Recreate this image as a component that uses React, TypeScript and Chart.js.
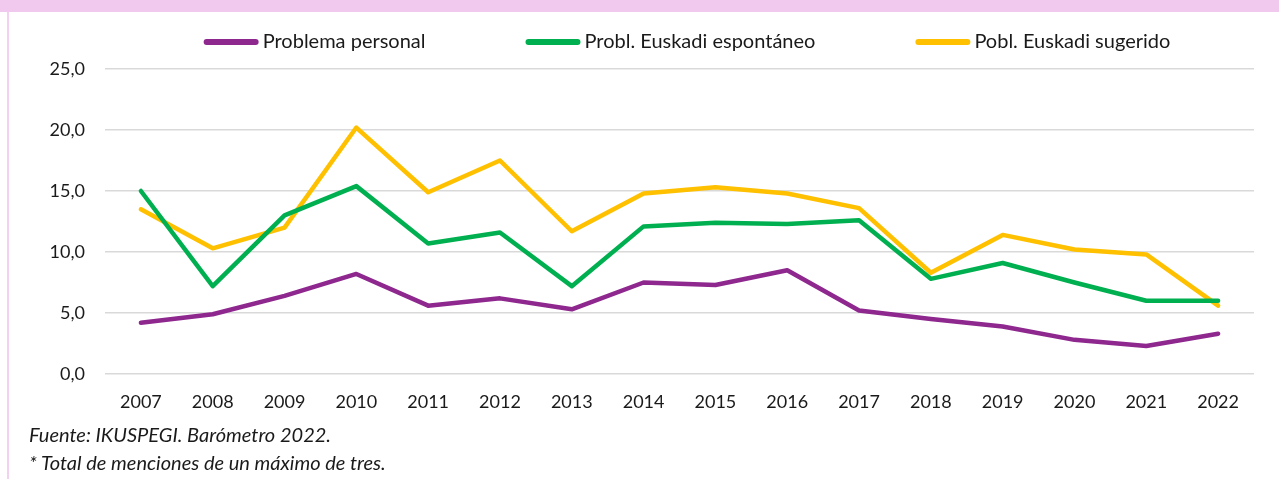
import React, { useEffect, useRef } from "react";
import { Chart, registerables } from "chart.js";

Chart.register(...registerables);

const years = ["2007","2008","2009","2010","2011","2012","2013","2014","2015","2016","2017","2018","2019","2020","2021","2022"];
const problemaPersonal = [4.2, 4.9, 6.4, 8.2, 5.6, 6.2, 5.3, 7.5, 7.3, 8.5, 5.2, 4.5, 3.9, 2.8, 2.3, 3.3];
const euskadiEspontaneo = [15.0, 7.2, 13.0, 15.4, 10.7, 11.6, 7.2, 12.1, 12.4, 12.3, 12.6, 7.8, 9.1, 7.5, 6.0, 6.0];
const euskadiSugerido = [13.5, 10.3, 12.0, 20.2, 14.9, 17.5, 11.7, 14.8, 15.3, 14.8, 13.6, 8.3, 11.4, 10.2, 9.8, 5.6];
const seriesLabels = ["Problema personal", "Probl. Euskadi espontáneo", "Pobl. Euskadi sugerido"];
const seriesColors = ["#8E278E", "#00B050", "#FFC000"];
const yTicks = [0, 5, 10, 15, 20, 25];
const footnotes = ["Fuente: IKUSPEGI. Barómetro 2022.", "* Total de menciones de un máximo de tres."];

const FONT = "Lato, 'Open Sans', sans-serif";

const legendPlugin = {
  id: "customLegend",
  afterDraw(chart: any) {
    const ctx = chart.ctx;
    const ds = chart.data.datasets;
    ctx.save();
    ctx.font = `20px ${FONT}`;
    const lineW = 55;
    const gapText = 4;
    const gapItem = 100;
    const widths = ds.map((d: any) => lineW + gapText + ctx.measureText(d.label).width);
    const total = widths.reduce((a: number, b: number) => a + b, 0) + gapItem * (ds.length - 1);
    let x = 687 - total / 2;
    const y = 42;
    ds.forEach((d: any, i: number) => {
      ctx.strokeStyle = d.borderColor;
      ctx.lineWidth = 6;
      ctx.lineCap = "round";
      ctx.beginPath();
      ctx.moveTo(x + 3, y);
      ctx.lineTo(x + lineW - 3, y);
      ctx.stroke();
      ctx.fillStyle = "#1a1a1a";
      ctx.textBaseline = "middle";
      ctx.textAlign = "left";
      ctx.fillText(d.label, x + lineW + gapText, y);
      x += widths[i] + gapItem;
    });
    ctx.restore();
  },
};

export default function App() {
  const ref = useRef<HTMLCanvasElement>(null);
  useEffect(() => {
    document.body.style.margin = "0";
    const seriesData = [problemaPersonal, euskadiEspontaneo, euskadiSugerido];
    const chart = new Chart(ref.current!, {
      type: "line",
      data: {
        labels: years,
        datasets: seriesData.map((d, i) => ({
          label: seriesLabels[i],
          data: d,
          borderColor: seriesColors[i],
          backgroundColor: seriesColors[i],
          borderWidth: 4.5,
          pointRadius: 0,
          tension: 0,
          borderCapStyle: "round" as const,
          borderJoinStyle: "round" as const,
        })),
      },
      options: {
        animation: false,
        responsive: false,
        maintainAspectRatio: false,
        layout: { padding: { top: 69, right: 25, bottom: 45, left: 0 } },
        plugins: { legend: { display: false }, tooltip: { enabled: false } },
        scales: {
          x: {
            type: "category",
            offset: true,
            grid: { display: false, drawTicks: false },
            border: { display: false },
            ticks: { color: "#1a1a1a", font: { family: FONT, size: 18 }, padding: 17, maxRotation: 0, autoSkip: false },
            afterFit: (s: any) => { s.height = 60; },
          },
          y: {
            min: 0,
            max: 25,
            afterBuildTicks: (s: any) => { s.ticks = yTicks.map((v) => ({ value: v })); },
            grid: { color: "#D9D9D9", lineWidth: 1.5, drawTicks: false },
            border: { display: false },
            ticks: {
              color: "#1a1a1a",
              font: { family: FONT, size: 18 },
              padding: 20,
              callback: (v: any) => Number(v).toFixed(1).replace(".", ","),
            },
            afterFit: (s: any) => { s.width = 105; },
          },
        },
      },
      plugins: [legendPlugin],
    });
    return () => chart.destroy();
  }, []);

  return (
    <div style={{ position: "fixed", left: 0, top: 0, width: 1279, height: 479, background: "#fff", overflow: "hidden" }}>
      <canvas ref={ref} width={1279} height={479} style={{ position: "absolute", left: 0, top: 0, width: 1279, height: 479 }} />
      <div style={{ position: "absolute", left: 0, top: 0, width: 1279, height: 12, background: "#F2C9EE" }} />
      <div style={{ position: "absolute", left: 7, top: 12, width: 2, height: 467, background: "#F2D2F0" }} />
      {footnotes.map((t, i) => (
        <div key={i} style={{ position: "absolute", left: 29, top: 422 + i * 28, fontFamily: FONT, fontStyle: "italic", fontSize: 20, lineHeight: "24px", color: "#1a1a1a", whiteSpace: "nowrap" }}>{t}</div>
      ))}
    </div>
  );
}
